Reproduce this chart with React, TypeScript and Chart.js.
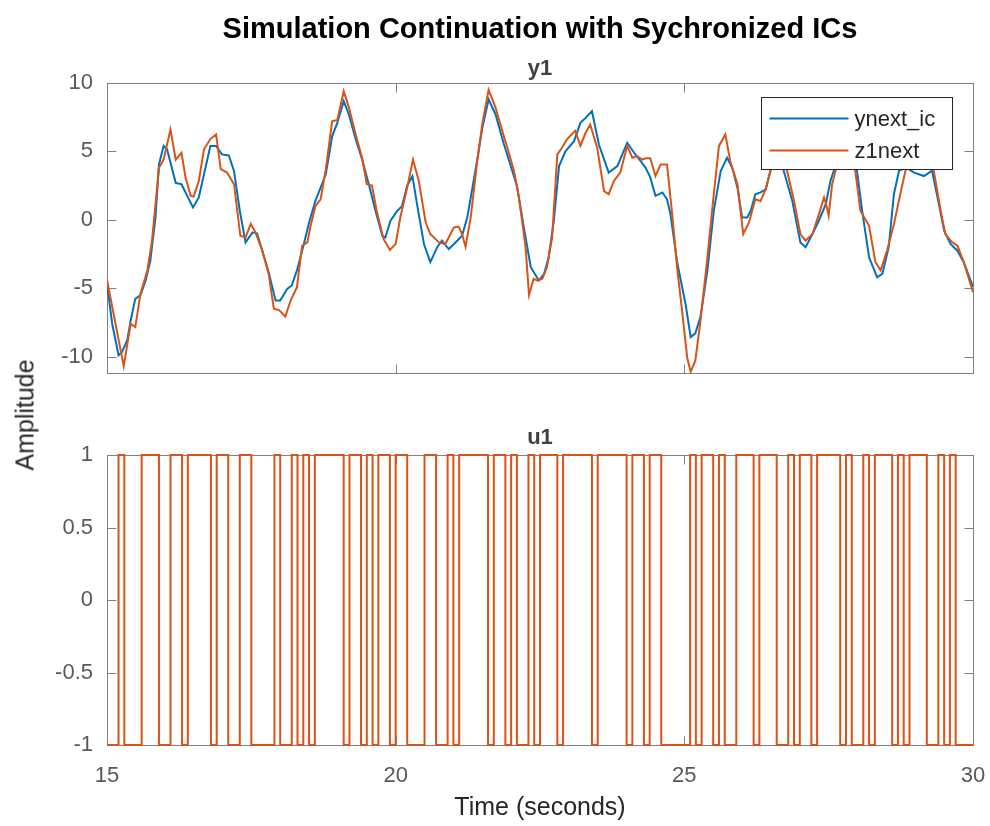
import React, { useEffect, useRef } from "react";
import { Chart, registerables } from "chart.js";

Chart.register(...registerables);

// ---------- data ----------
const X_MIN = 15;
const X_MAX = 30;
const xTicks = [15, 20, 25, 30];
const y1Ticks = [-10, -5, 0, 5, 10];
const u1Ticks = [-1, -0.5, 0, 0.5, 1];
const Y1_MIN = -11.2;
const Y1_MAX = 10;
const U1_MIN = -1;
const U1_MAX = 1;

// ynext_ic (blue)
const ynextTimes = [
  15.0, 15.09, 15.2, 15.26, 15.35, 15.41, 15.49, 15.58, 15.67, 15.75, 15.84, 15.9, 15.98, 16.04, 16.19,
  16.29, 16.39, 16.49, 16.59, 16.68, 16.79, 16.89, 16.99, 17.11, 17.2, 17.3, 17.4, 17.52, 17.6, 17.69,
  17.8, 17.92, 18.0, 18.12, 18.2, 18.29, 18.41, 18.5, 18.61, 18.79, 18.9, 18.99, 19.1, 19.19, 19.3,
  19.42, 19.54, 19.65, 19.77, 19.82, 19.91, 20.03, 20.11, 20.2, 20.29, 20.37, 20.49, 20.6, 20.72, 20.8,
  20.92, 21.01, 21.15, 21.24, 21.41, 21.5, 21.61, 21.73, 21.87, 22.02, 22.1, 22.22, 22.34, 22.48, 22.57,
  22.65, 22.74, 22.83, 22.94, 23.09, 23.2, 23.29, 23.4, 23.52, 23.69, 23.84, 24.01, 24.13, 24.24, 24.33,
  24.41, 24.5, 24.62, 24.7, 24.76, 24.88, 25.02, 25.11, 25.19, 25.28, 25.4, 25.51, 25.63, 25.74, 25.83,
  25.92, 26.0, 26.09, 26.15, 26.23, 26.32, 26.41, 26.49, 26.6, 26.72, 26.87, 27.01, 27.1, 27.22, 27.33,
  27.45, 27.53, 27.59, 27.75, 27.9, 27.99, 28.08, 28.2, 28.34, 28.43, 28.54, 28.63, 28.72, 28.85, 28.98,
  29.15, 29.29, 29.41, 29.5, 29.61, 29.73, 29.84, 30.0,
];
const ynextValues = [
  -4.7, -7.6, -9.9, -9.66, -8.8, -7.36, -5.78, -5.5, -4.44, -3.0, 0.17, 4.05, 5.4, 5.15, 2.7,
  2.6, 1.75, 0.9, 1.63, 3.33, 5.4, 5.4, 4.78, 4.7, 3.57, 0.66, -1.65, -0.92, -1.0, -2.26,
  -3.84, -5.9, -5.9, -5.05, -4.8, -3.7, -1.77, -0.19, 1.38, 3.33, 6.1, 7.1, 8.67, 7.7, 6.0,
  4.4, 2.5, 0.66, -1.17, -1.3, -0.07, 0.66, 1.0, 2.5, 3.2, 1.14, -1.77, -3.1, -2.0, -1.53,
  -2.14, -1.77, -1.17, 0.17, 4.3, 6.7, 8.8, 7.7, 5.6, 3.57, 2.5, -0.56, -3.47, -4.44, -3.96,
  -2.74, -0.07, 3.93, 5.0, 5.75, 7.09, 7.45, 7.94, 5.5, 3.45, 3.93, 5.63, 4.9, 4.3, 3.8,
  3.1, 1.75, 2.0, 1.5, 0.4, -3.2, -6.14, -8.57, -8.3, -7.1, -3.7, 0.66, 3.57, 4.54, 3.8,
  2.35, 0.17, 0.17, 0.66, 1.87, 2.0, 2.23, 3.57, 4.6, 3.6, 1.38, -1.65, -2.0, -1.04, -0.07,
  1.14, 2.84, 3.6, 4.8, 4.6, 3.6, 0.66, -2.74, -4.2, -3.96, -2.0, 1.87, 3.6, 3.8, 3.45,
  3.2, 3.6, 1.14, -0.8, -1.77, -2.26, -3.1, -4.9,
];

// z1next (orange)
const z1Times = [
  15.0, 15.29, 15.41, 15.49, 15.58, 15.7, 15.78, 15.9, 15.98, 16.1, 16.19, 16.29, 16.36, 16.45, 16.5,
  16.59, 16.68, 16.79, 16.89, 16.97, 17.08, 17.2, 17.31, 17.4, 17.49, 17.57, 17.69, 17.8, 17.89, 17.98,
  18.09, 18.18, 18.29, 18.38, 18.47, 18.52, 18.61, 18.7, 18.79, 18.9, 18.99, 19.1, 19.19, 19.3, 19.42,
  19.5, 19.59, 19.67, 19.79, 19.9, 20.0, 20.08, 20.2, 20.3, 20.4, 20.52, 20.6, 20.75, 20.86, 20.95,
  21.01, 21.09, 21.15, 21.21, 21.3, 21.41, 21.5, 21.61, 21.73, 21.84, 21.96, 22.05, 22.13, 22.19, 22.25,
  22.31, 22.39, 22.45, 22.54, 22.62, 22.71, 22.8, 22.88, 22.97, 23.11, 23.2, 23.29, 23.37, 23.49, 23.61,
  23.69, 23.78, 23.89, 24.01, 24.1, 24.18, 24.27, 24.33, 24.41, 24.5, 24.59, 24.7, 24.79, 24.88, 24.96,
  25.05, 25.11, 25.19, 25.28, 25.4, 25.51, 25.6, 25.71, 25.8, 25.92, 26.02, 26.12, 26.23, 26.32, 26.41,
  26.49, 26.6, 26.7, 26.78, 26.9, 27.01, 27.1, 27.22, 27.33, 27.42, 27.47, 27.5, 27.56, 27.62, 27.75,
  27.85, 27.96, 28.05, 28.2, 28.31, 28.4, 28.51, 28.63, 28.74, 28.83, 28.95, 29.1, 29.2, 29.32, 29.44,
  29.52, 29.64, 29.73, 29.84, 30.0,
];
const z1Values = [
  -4.4, -10.7, -7.6, -7.84, -5.4, -3.7, -1.5, 3.8, 4.4, 6.6, 4.4, 4.9, 3.1, 1.75, 1.7,
  2.84, 5.15, 5.9, 6.24, 3.7, 3.45, 2.6, -1.17, -1.3, -0.3, -0.9, -2.26, -3.96, -6.5, -6.6,
  -7.07, -5.9, -4.93, -1.9, -1.65, -0.56, 1.0, 1.5, 3.7, 7.2, 7.3, 9.4, 8.2, 6.36, 4.5,
  2.6, 2.5, 0.66, -1.4, -2.2, -1.77, 0.17, 2.35, 4.4, 2.84, -0.2, -1.04, -1.65, -1.77, -1.04,
  -0.56, -0.5, -1.04, -1.97, 0.17, 4.2, 7.0, 9.5, 8.2, 6.6, 4.9, 3.57, 1.75, -0.07, -2.0,
  -5.5, -4.3, -4.44, -4.3, -3.47, -1.3, 4.78, 5.27, 5.9, 6.5, 5.4, 6.36, 6.97, 5.27, 2.1,
  1.87, 2.84, 3.45, 5.4, 4.54, 4.66, 4.4, 4.5, 4.5, 3.2, 4.05, 4.05, 0.4, -3.7, -6.6,
  -10.1, -11.1, -10.3, -7.36, -2.74, 1.87, 5.4, 6.24, 4.2, 2.6, -1.04, -0.19, 1.5, 1.38, 2.23,
  3.57, 4.8, 4.2, 3.57, 1.38, -1.04, -1.53, -1.04, 0.4, 1.63, 0.9, 0.3, 2.6, 3.6, 4.8,
  4.8, 3.6, 0.66, -0.44, -3.1, -3.7, -2.26, -0.32, 1.87, 3.6, 4.3, 4.5, 4.6, 3.6, 0.66,
  -1.04, -1.65, -1.9, -3.1, -5.3,
];

// u1: switching instants and the level held from each instant on
const u1Times = [
  15.0, 15.2, 15.3, 15.6, 15.9, 16.1, 16.3, 16.4, 16.8, 16.9, 17.1, 17.3, 17.5, 17.9, 18.0, 18.2,
  18.3, 18.4, 18.5, 18.6, 19.1, 19.2, 19.4, 19.5, 19.6, 19.7, 19.9, 20.0, 20.2, 20.5, 20.7, 20.9,
  21.0, 21.1, 21.6, 21.7, 21.9, 22.0, 22.1, 22.3, 22.4, 22.5, 22.8, 22.9, 23.4, 23.5, 24.0, 24.1,
  24.3, 24.4, 24.6, 25.1, 25.2, 25.3, 25.5, 25.6, 25.7, 25.9, 26.2, 26.3, 26.6, 26.8, 26.9, 27.0,
  27.2, 27.3, 27.7, 27.8, 27.9, 28.1, 28.2, 28.3, 28.6, 28.7, 28.8, 28.9, 29.2, 29.4, 29.5, 29.6,
  29.7, 30.0,
];
const u1Levels = [
  -1, 1, -1, 1, -1, 1, -1, 1, -1, 1, -1, 1, -1, 1, -1, 1,
  -1, 1, -1, 1, -1, 1, -1, 1, -1, 1, -1, 1, -1, 1, -1, 1,
  -1, 1, -1, 1, -1, 1, -1, 1, -1, 1, -1, 1, -1, 1, -1, 1,
  -1, 1, -1, 1, -1, 1, -1, 1, -1, 1, -1, 1, -1, 1, -1, 1,
  -1, 1, -1, 1, -1, 1, -1, 1, -1, 1, -1, 1, -1, 1, -1, 1,
  -1, -1,
];

const seriesLabels = ["ynext_ic", "z1next"];

// ---------- styles ----------
const BLUE = "#0072BD";
const ORANGE = "#D95319";
const AXIS_COLOR = "#808080";
const TICK_COLOR = "#595959";
const FONT = "'Liberation Sans', Arial, Helvetica, sans-serif";
const W = 990;
const H1 = 400;
const H2 = 426;

const toPoints = (xs: number[], ys: number[]) => xs.map((x, i) => ({ x, y: ys[i] }));

const boxPlugin = (xt: number[], yt: number[]) => ({
  id: "matlabBox",
  beforeDatasetsDraw(chart: any) {
    const { ctx, chartArea: a, scales } = chart;
    ctx.save();
    ctx.strokeStyle = AXIS_COLOR;
    ctx.lineWidth = 1;
    const l = Math.round(a.left) + 0.5;
    const r = Math.round(a.right) + 0.5;
    const t = Math.round(a.top) + 0.5;
    const b = Math.round(a.bottom) + 0.5;
    ctx.strokeRect(l, t, r - l, b - t);
    const L = 9;
    ctx.beginPath();
    xt.forEach((v) => {
      const px = Math.round(scales.x.getPixelForValue(v)) + 0.5;
      ctx.moveTo(px, b);
      ctx.lineTo(px, b - L);
      ctx.moveTo(px, t);
      ctx.lineTo(px, t + L);
    });
    yt.forEach((v) => {
      const py = Math.round(scales.y.getPixelForValue(v)) + 0.5;
      ctx.moveTo(l, py);
      ctx.lineTo(l + L, py);
      ctx.moveTo(r, py);
      ctx.lineTo(r - L, py);
    });
    ctx.stroke();
    ctx.restore();
  },
});

const legendPlugin = {
  id: "insideLegend",
  afterDatasetsDraw(chart: any) {
    const { ctx, chartArea: a } = chart;
    const bw = 191;
    const bh = 72;
    const bx = Math.round(a.right - 21 - bw) + 0.5;
    const by = Math.round(a.top + 14) + 0.5;
    ctx.save();
    ctx.fillStyle = "#ffffff";
    ctx.fillRect(bx, by, bw, bh);
    ctx.strokeStyle = "#262626";
    ctx.lineWidth = 1;
    ctx.strokeRect(bx, by, bw, bh);
    const items = [
      { text: seriesLabels[0], color: BLUE },
      { text: seriesLabels[1], color: ORANGE },
    ];
    ctx.font = `22px ${FONT}`;
    ctx.textBaseline = "middle";
    ctx.textAlign = "left";
    items.forEach((it, i) => {
      const y = by + 21 + i * 32;
      ctx.strokeStyle = it.color;
      ctx.lineWidth = 2;
      ctx.beginPath();
      ctx.moveTo(bx + 8, y);
      ctx.lineTo(bx + 87, y);
      ctx.stroke();
      ctx.fillStyle = "#262626";
      ctx.fillText(it.text, bx + 93, y + 1);
    });
    ctx.restore();
  },
};

const tickFont = { family: FONT, size: 22 };
const fmt = (v: any) => String(v);
const noPad = (s: any) => {
  s.paddingLeft = 0;
  s.paddingRight = 0;
  s.paddingTop = 0;
  s.paddingBottom = 0;
};

export default function App() {
  const c1 = useRef<HTMLCanvasElement>(null);
  const c2 = useRef<HTMLCanvasElement>(null);

  useEffect(() => {
    const ch1 = new Chart(c1.current as HTMLCanvasElement, {
      type: "line",
      data: {
        datasets: [
          {
            label: seriesLabels[0],
            data: toPoints(ynextTimes, ynextValues),
            borderColor: BLUE,
            borderWidth: 2,
            pointRadius: 0,
            tension: 0,
            fill: false,
            order: 2,
          },
          {
            label: seriesLabels[1],
            data: toPoints(z1Times, z1Values),
            borderColor: ORANGE,
            borderWidth: 2,
            pointRadius: 0,
            tension: 0,
            fill: false,
            order: 1,
          },
        ],
      },
      options: {
        animation: false,
        responsive: false,
        maintainAspectRatio: false,
        events: [],
        layout: { padding: { left: 0, right: 17, top: 83, bottom: 27 } },
        plugins: { legend: { display: false }, title: { display: false }, tooltip: { enabled: false } },
        scales: {
          x: { type: "linear", min: X_MIN, max: X_MAX, display: false },
          y: {
            type: "linear",
            min: Y1_MIN,
            max: Y1_MAX,
            afterBuildTicks: (s: any) => {
              s.ticks = y1Ticks.map((v) => ({ value: v }));
            },
            afterFit: (s: any) => {
              s.width = 107;
              noPad(s);
            },
            grid: { display: false, drawTicks: false },
            border: { display: false },
            ticks: { padding: 14, color: TICK_COLOR, font: tickFont, callback: fmt },
          },
        },
      } as any,
      plugins: [boxPlugin(xTicks, y1Ticks), legendPlugin],
    });

    const ch2 = new Chart(c2.current as HTMLCanvasElement, {
      type: "line",
      data: {
        datasets: [
          {
            label: "u1",
            data: toPoints(u1Times, u1Levels),
            borderColor: ORANGE,
            borderWidth: 2,
            pointRadius: 0,
            stepped: "before",
            fill: false,
            clip: 4,
          },
        ],
      },
      options: {
        animation: false,
        responsive: false,
        maintainAspectRatio: false,
        events: [],
        layout: { padding: { left: 0, right: 17, top: 55, bottom: 31 } },
        plugins: { legend: { display: false }, title: { display: false }, tooltip: { enabled: false } },
        scales: {
          x: {
            type: "linear",
            min: X_MIN,
            max: X_MAX,
            afterBuildTicks: (s: any) => {
              s.ticks = xTicks.map((v) => ({ value: v }));
            },
            afterFit: (s: any) => {
              s.height = 50;
              noPad(s);
            },
            grid: { display: false, drawTicks: false },
            border: { display: false },
            ticks: { padding: 18, color: TICK_COLOR, font: tickFont, maxRotation: 0, autoSkip: false, callback: fmt },
          },
          y: {
            type: "linear",
            min: U1_MIN,
            max: U1_MAX,
            afterBuildTicks: (s: any) => {
              s.ticks = u1Ticks.map((v) => ({ value: v }));
            },
            afterFit: (s: any) => {
              s.width = 107;
              noPad(s);
            },
            grid: { display: false, drawTicks: false },
            border: { display: false },
            ticks: { padding: 14, color: TICK_COLOR, font: tickFont, callback: fmt },
          },
        },
      } as any,
      plugins: [boxPlugin(xTicks, u1Ticks)],
    });

    return () => {
      ch1.destroy();
      ch2.destroy();
    };
  }, []);

  const txt = (extra: React.CSSProperties): React.CSSProperties => ({
    position: "absolute",
    fontFamily: FONT,
    lineHeight: 1,
    whiteSpace: "nowrap",
    transform: "translate(-50%, -50%)",
    ...extra,
  });

  return (
    <div style={{ position: "fixed", left: 0, top: 0, width: W, height: H1 + H2, background: "#fff" }}>
      <canvas ref={c1} width={W} height={H1} style={{ position: "absolute", left: 0, top: 0, width: W, height: H1 }} />
      <canvas ref={c2} width={W} height={H2} style={{ position: "absolute", left: 0, top: H1, width: W, height: H2 }} />
      <div style={txt({ left: 540, top: 28, fontSize: 29, fontWeight: "bold", color: "#000" })}>
        Simulation Continuation with Sychronized ICs
      </div>
      <div style={txt({ left: 540, top: 68, fontSize: 22, fontWeight: "bold", color: "#404040" })}>y1</div>
      <div style={txt({ left: 540, top: 437, fontSize: 22, fontWeight: "bold", color: "#404040" })}>u1</div>
      <div style={txt({ left: 25, top: 415, fontSize: 25, color: "#262626", transform: "translate(-50%, -50%) rotate(-90deg)" })}>
        Amplitude
      </div>
      <div style={txt({ left: 540, top: 806, fontSize: 25, color: "#262626" })}>Time (seconds)</div>
    </div>
  );
}
